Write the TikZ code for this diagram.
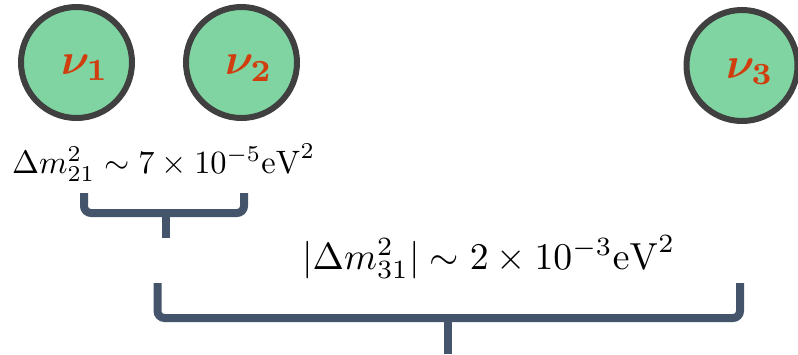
\documentclass[tikz,border=0pt]{standalone}
\usepackage{amsmath,bm}
\usetikzlibrary{calc}
\definecolor{nufill}{RGB}{128,212,161}
\definecolor{nuedge}{RGB}{64,64,64}
\definecolor{nutext}{RGB}{208,62,16}
\definecolor{bracecol}{RGB}{68,84,106}
\tikzset{
  nucircle/.style={circle, draw=nuedge, fill=nufill, line width=6pt, minimum size=111pt, inner sep=0pt},
  nulabel/.style={anchor=base west, inner sep=0pt, text=nutext},
  bracepath/.style={draw=bracecol, line width=8pt, rounded corners=7pt},
  stempath/.style={draw=bracecol, line width=8pt},
  formula/.style={anchor=base west, inner sep=0pt}
}
\begin{document}
\begin{tikzpicture}[x=1pt,y=-1pt]
\useasboundingbox (0,0) rectangle (798,354);
% circles
\node[nucircle] (n1) at (76.5,62.5) {};
\node[nucircle] (n2) at (241.5,62.5) {};
\node[nucircle] (n3) at (742,65.5) {};
\node[nulabel] (l1) at (61,74) {\scalebox{4.4}{$\bm{\nu}_{\mathbf{1}}$}};
\node[nulabel] (l2) at (225,74.5) {\scalebox{4.4}{$\bm{\nu}_{\mathbf{2}}$}};
\node[nulabel] (l3) at (726,78) {\scalebox{4.4}{$\bm{\nu}_{\mathbf{3}}$}};
% formulas
\node[formula] (f1) at (12,173) {\resizebox{303pt}{!}{$\Delta m^2_{21}\sim 7\times 10^{-5}\mathrm{eV}^2$}};
\node[formula] (f2) at (302,269) {\resizebox{373pt}{!}{$|\Delta m^2_{31}|\sim 2\times 10^{-3}\mathrm{eV}^2$}};
% brace 1
\coordinate (b1l) at (84,193);
\coordinate (b1r) at (244,193);
\coordinate (b1m) at (166,213);
\coordinate (b1s) at (166,238);
\draw[bracepath] (b1l) -- (b1l |- b1m) -- (b1r |- b1m) -- (b1r);
\draw[stempath] (b1m) -- (b1s);
% brace 2
\coordinate (b2l) at (157.5,283);
\coordinate (b2r) at (740,283);
\coordinate (b2m) at (448,318);
\coordinate (b2s) at (448,354);
\draw[bracepath] (b2l) -- (b2l |- b2m) -- (b2r |- b2m) -- (b2r);
\draw[stempath] (b2m) -- (b2s);
\end{tikzpicture}
\end{document}
